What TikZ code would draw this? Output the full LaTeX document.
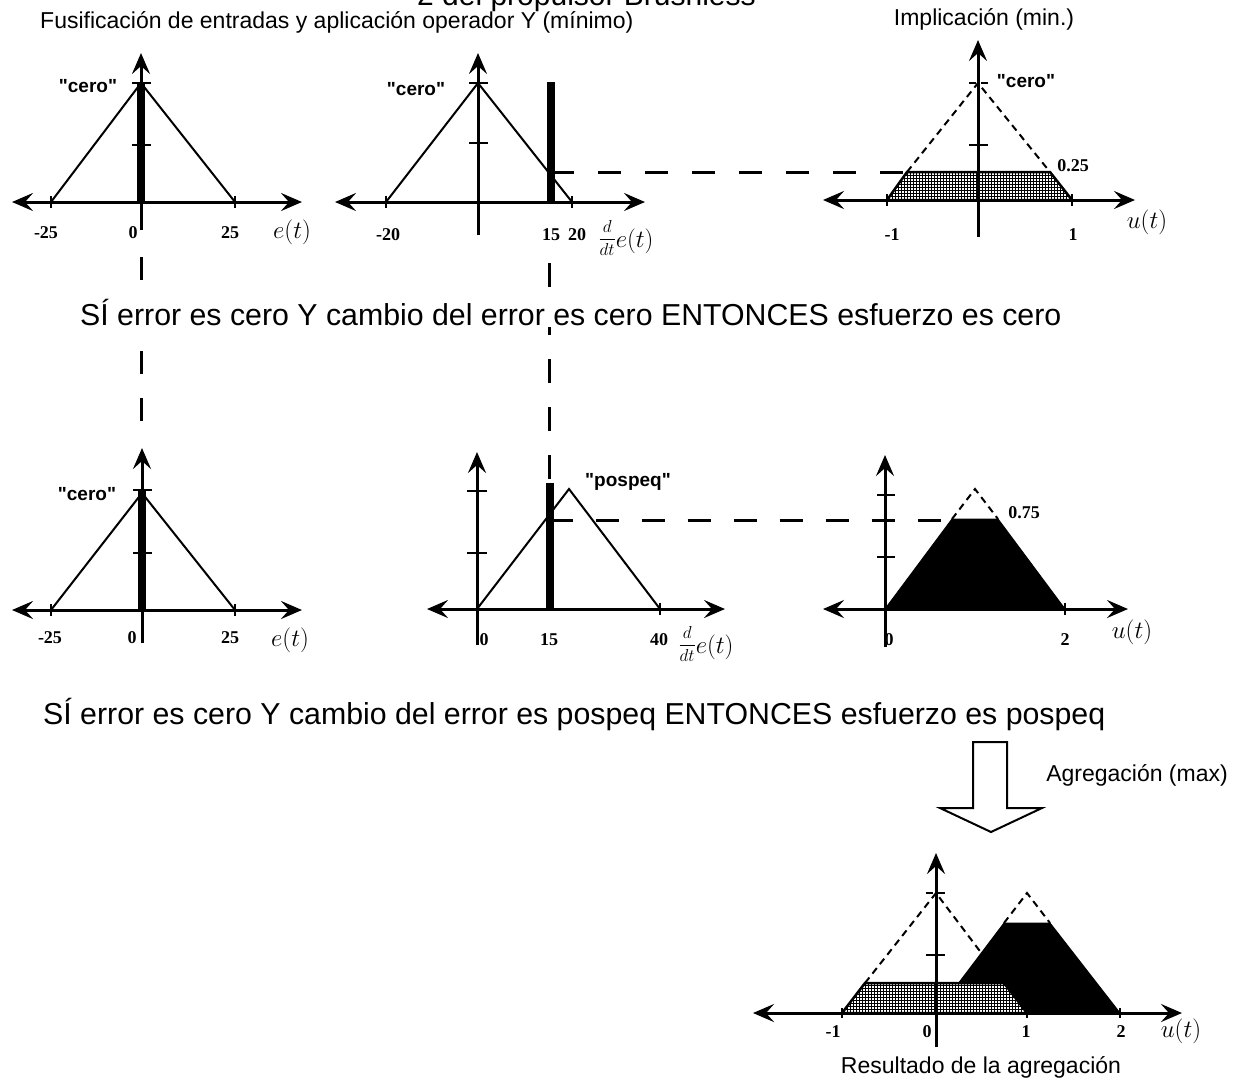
\documentclass[tikz,border=0pt]{standalone}
\usepackage{fontspec}
\setmainfont{Liberation Sans}
\newfontfamily\numfont{Liberation Serif}
\newfontfamily\etiqfont{Liberation Sans}[Ligatures=TeXOff]
\usetikzlibrary{arrows.meta,patterns,patterns.meta}

\tikzdeclarepattern{name=malla,type=uncolored,
  bottom left={(-0.1pt,-0.1pt)},top right={(3.1pt,3.1pt)},tile size={(3pt,3pt)},
  code={\pgfsetlinewidth{0.8pt}
    \pgfpathmoveto{\pgfqpoint{0pt}{1.5pt}}\pgfpathlineto{\pgfqpoint{3pt}{1.5pt}}
    \pgfpathmoveto{\pgfqpoint{1.5pt}{0pt}}\pgfpathlineto{\pgfqpoint{1.5pt}{3pt}}
    \pgfusepath{stroke}}}

\begin{document}
\begin{tikzpicture}[x=1pt,y=-1pt,
  eje/.style={line width=3pt,{Stealth[length=21pt,width=18pt,inset=8pt]}-{Stealth[length=21pt,width=18pt,inset=8pt]}},
  ejev/.style={line width=3pt,-{Stealth[length=21pt,width=18pt,inset=8pt]}},
  fun/.style={line width=2pt},
  fund/.style={line width=2pt,dash pattern=on 7pt off 5pt},
  marca/.style={line width=2.5pt},
  barra/.style={fill=black},
  guia/.style={line width=3pt,dash pattern=on 23pt off 24pt},
  etiq/.style={font=\etiqfont\fontsize{19}{19}\selectfont\bfseries,inner sep=0pt},
  num/.style={font=\numfont\fontsize{18}{18}\selectfont\bfseries,inner sep=0pt},
  var/.style={font=\fontsize{23}{23}\selectfont,inner sep=0pt},
  regla/.style={font=\fontsize{30.3}{30.3}\selectfont,fill=white,inner sep=2pt,anchor=base west},
  titulo/.style={font=\fontsize{23}{23}\selectfont,inner sep=0pt},
  punteado/.style={line width=2.5pt,preaction={fill=white},pattern=malla},
  relleno/.style={fill=black,line width=1pt,draw=black}
]
\useasboundingbox (0,0) rectangle (1246,1080);
\clip (0,0) rectangle (1246,1080);

% Titulos
\node[font=\fontsize{30}{30}\selectfont,anchor=base west,inner sep=0pt] (tit) at (417,5) {2 del propulsor Brushless};
\node[titulo,anchor=base west] (fus) at (40,28) {Fusificación de entradas y aplicación operador Y (mínimo)};
\node[titulo] (imp) at (984,19) {Implicación (min.)};

% Grafica 1: error "cero"
\draw[fun] (51,202) -- (141,83) -- (235,202);
\fill[barra] (137,82) rectangle (145,203);
\draw[eje] (12,202) -- (302,202);
\draw[ejev] (141,230) -- (141,53);
\draw[marca] (132,83) -- (151,83);
\draw[marca] (132,145) -- (151,145);
\draw[marca] (51,196) -- (51,208);
\draw[marca] (235,196) -- (235,208);
\node[etiq] (c1) at (88,86) {"cero"};
\node[num] (a1) at (46,233) {-25};
\node[num] (b1) at (133,233) {0};
\node[num] (d1) at (230,233) {25};
\node[var] (v1) at (292,232) {$e(t)$};

% Grafica 2: cambio del error "cero"
\draw[fun] (386,202) -- (478,83) -- (572,202);
\fill[barra] (547,82) rectangle (555,203);
\draw[eje] (335,202) -- (645,202);
\draw[ejev] (478,235) -- (478,53);
\draw[marca] (469,83) -- (488,83);
\draw[marca] (469,143) -- (488,143);
\draw[marca] (386,196) -- (386,208);
\draw[marca] (572,196) -- (572,208);
\node[etiq] (c2) at (416,89) {"cero"};
\node[num] (a2) at (388,235) {-20};
\node[num] (b2) at (551,235) {15};
\node[num] (d2) at (577,235) {20};
\node[var] (v2) at (626,238) {{\fontsize{17}{17}\selectfont$\displaystyle\frac{d}{dt}$}\raisebox{-4pt}{$e(t)$}};

% Grafica 3: implicacion "cero"
\draw[fund] (907,172) -- (978,83) -- (1050,172);
\draw[punteado] (887,200) -- (907,172) -- (1050,172) -- (1072,200) -- cycle;
\draw[eje] (823,200) -- (1135,200);
\draw[ejev] (978,237) -- (978,40);
\draw[fund] (969,83) -- (988,83);
\draw[marca] (969,145) -- (988,145);
\draw[marca] (887,194) -- (887,206);
\draw[marca] (1072,194) -- (1072,206);
\node[etiq] (c3) at (1026,81) {"cero"};
\node[num] (p3) at (1073,166) {0.25};
\node[num] (a3) at (892,235) {-1};
\node[num] (d3) at (1073,235) {1};
\node[var] (v3) at (1147,222) {$u(t)$};

% Guia horizontal (min = 0.25)
\coordinate (h1a) at (551,172);
\coordinate (h1b) at (907,172);
\draw[guia] (h1a) -- (h1b);

% Grafica 4: error "cero"
\draw[fun] (51,610) -- (142,493) -- (235,610);
\fill[barra] (138,490) rectangle (146,611);
\draw[eje] (12,610) -- (302,610);
\draw[ejev] (142,643) -- (142,448);
\draw[marca] (133,490) -- (152,490);
\draw[marca] (133,553) -- (152,553);
\draw[marca] (51,604) -- (51,616);
\draw[marca] (235,604) -- (235,616);
\node[etiq] (c4) at (87,494) {"cero"};
\node[num] (a4) at (50,638) {-25};
\node[num] (b4) at (132,638) {0};
\node[num] (d4) at (230,638) {25};
\node[var] (v4) at (290,640) {$e(t)$};

% Grafica 5: cambio del error "pospeq"
\draw[fun] (477,609) -- (569,489) -- (660,609);
\fill[barra] (545.5,483) rectangle (553.5,611);
\draw[eje] (427,609) -- (725,609);
\draw[ejev] (477,645) -- (477,452);
\draw[marca] (467,491) -- (487,491);
\draw[marca] (467,553) -- (487,553);
\draw[marca] (660,603) -- (660,615);
\node[etiq] (c5) at (628,482) {"pospeq"};
\node[num] (b5) at (484,640) {0};
\node[num] (e5) at (549,640) {15};
\node[num] (d5) at (659,640) {40};
\node[var] (v5) at (706,644) {{\fontsize{17}{17}\selectfont$\displaystyle\frac{d}{dt}$}\raisebox{-4pt}{$e(t)$}};

% Grafica 6: implicacion "pospeq"
\draw[fund] (952,519) -- (975,489) -- (998,519);
\draw[relleno] (885,609) -- (952,519) -- (998,519) -- (1065,609) -- cycle;
\draw[eje] (823,609) -- (1128,609);
\draw[ejev] (885,647) -- (885,455);
\draw[marca] (877,495) -- (895,495);
\draw[marca] (877,557) -- (895,557);
\draw[marca] (1065,603) -- (1065,615);
\node[num] (p6) at (1024,513) {0.75};
\node[num] (b6) at (889,640) {0};
\node[num] (d6) at (1065,640) {2};
\node[var] (v6) at (1132,632) {$u(t)$};

% Guia horizontal (min = 0.75)
\coordinate (h2a) at (549.5,520);
\coordinate (h2b) at (952,520);
\draw[guia,dash pattern=on 23pt off 23pt] (h2a) -- (h2b);

% Guias verticales
\coordinate (g1a) at (141,257);
\coordinate (g1b) at (141,440);
\coordinate (g2a) at (549,263);
\coordinate (g2b) at (549,480);
\draw[guia] (g1a) -- (g1b);
\draw[guia,dash pattern=on 24pt off 24pt] (g2a) -- (g2b);

% Reglas
\node[regla] (r1) at (78,325) {SÍ error es cero Y cambio del error es cero ENTONCES esfuerzo es cero};
\node[regla] (r2) at (41,724) {SÍ error es cero Y cambio del error es pospeq ENTONCES esfuerzo es pospeq};

% Agregacion
\draw[line width=2pt,line join=miter] (973,742) -- (1007,742) -- (1007,808) -- (1042,808) -- (991,832) -- (940,808) -- (973,808) -- cycle;
\node[titulo] (agr) at (1137,775) {Agregación (max)};

% Grafica 7: resultado
\draw[fund] (865,983) -- (936,893) -- (1004,983);
\draw[fund] (1004,923) -- (1027,893) -- (1050,923);
\draw[relleno] (936,1013) -- (1004,923) -- (1050,923) -- (1120,1013) -- cycle;
\draw[punteado] (842,1013) -- (865,983) -- (1004,983) -- (1027,1013) -- cycle;
\draw[eje] (753,1013) -- (1182,1013);
\draw[ejev] (936,1047) -- (936,853);
\draw[fund] (926,893) -- (945,893);
\draw[marca] (926,955) -- (945,955);
\draw[marca] (842,1008) -- (842,1018);
\draw[marca] (1027,1008) -- (1027,1018);
\draw[marca] (1120,1008) -- (1120,1018);
\node[num] (a7) at (833,1032) {-1};
\node[num] (b7) at (927,1032) {0};
\node[num] (d7) at (1026,1032) {1};
\node[num] (e7) at (1121,1032) {2};
\node[var] (v7) at (1181,1031) {$u(t)$};
\node[titulo] (res) at (981,1067) {Resultado de la agregación};
\end{tikzpicture}
\end{document}
